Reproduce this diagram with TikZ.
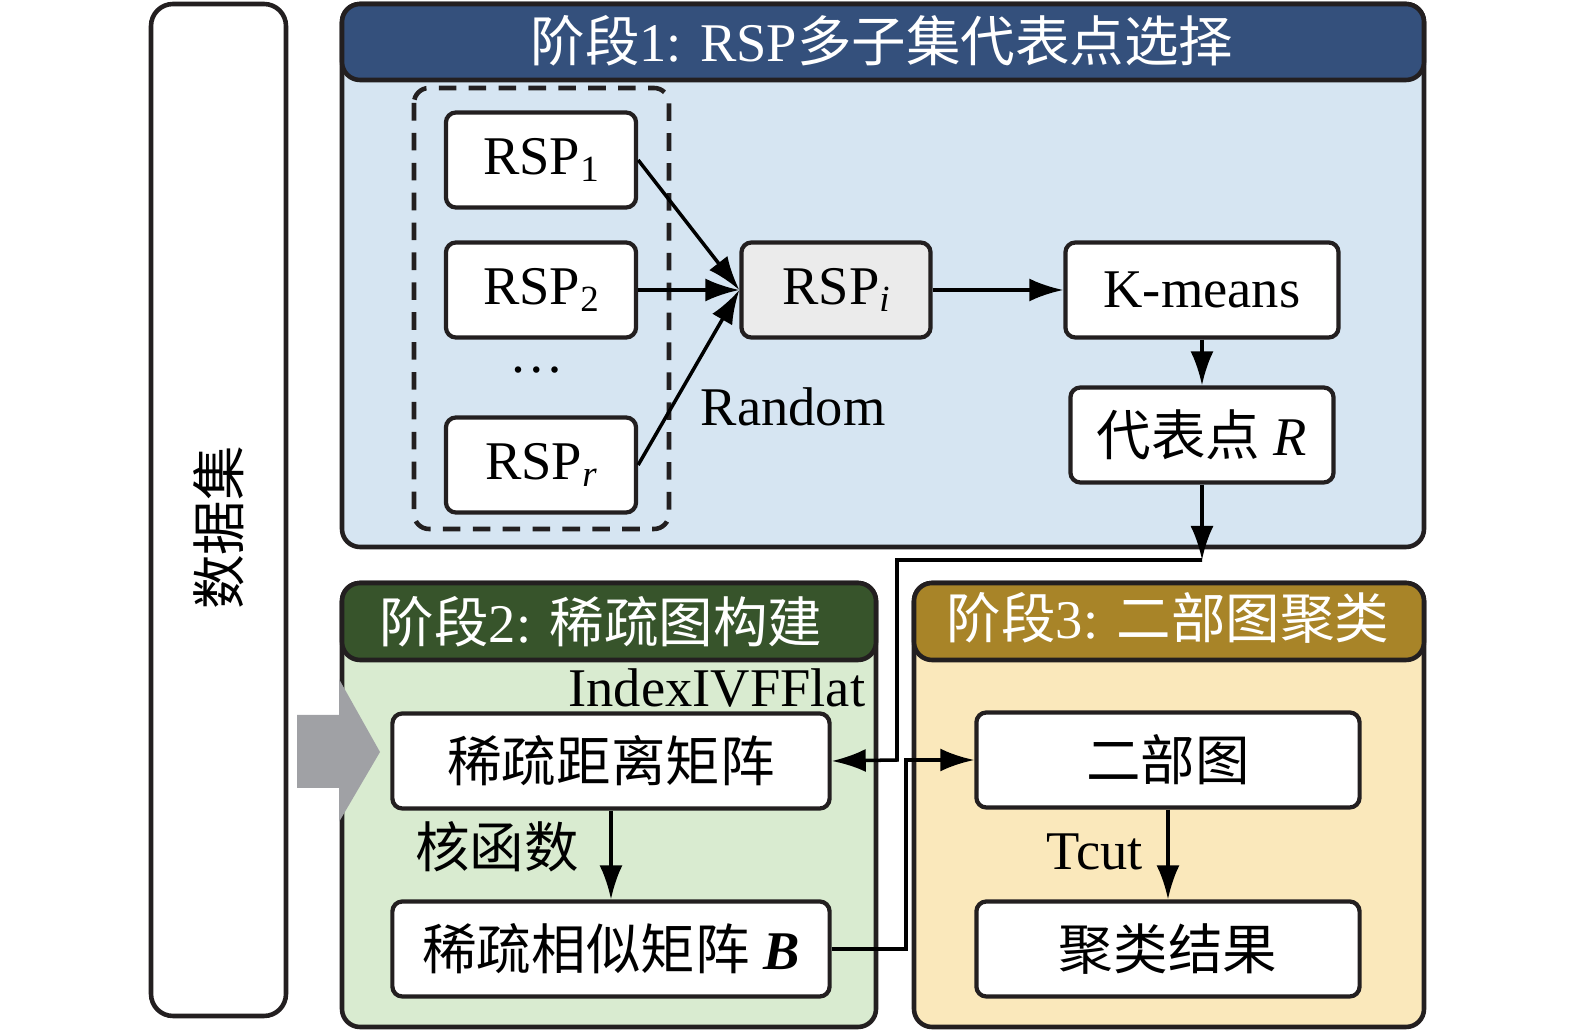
\documentclass[tikz,border=0pt]{standalone}
\usepackage{fontspec}
\setmainfont{Liberation Serif}
\newfontfamily\zh{Noto Sans CJK SC}
\usetikzlibrary{arrows.meta}
\definecolor{edge}{HTML}{231F20}
\definecolor{headone}{HTML}{34507C}
\definecolor{bodyone}{HTML}{D6E5F2}
\definecolor{headtwo}{HTML}{37542B}
\definecolor{bodytwo}{HTML}{D9EBD0}
\definecolor{headthree}{HTML}{A88428}
\definecolor{bodythree}{HTML}{FAE8BB}
\definecolor{pick}{HTML}{EBEBEB}
\definecolor{bigarrow}{HTML}{A0A1A5}
\newcommand{\lowsub}[1]{\raisebox{-0.3ex}{\fontsize{10.5}{12}\selectfont #1}}
\begin{document}
\begin{tikzpicture}[x=0.01cm, y=-0.01cm,
    txt/.style={font=\fontsize{15.5}{18}\selectfont, inner sep=0pt},
    box/.style={txt, draw=edge, line width=1.2pt, rounded corners=0.1cm, fill=white, minimum height=0.95cm},
    frame/.style={draw=edge, line width=1.3pt, rounded corners=0.18cm},
    flow/.style={line width=1pt, -{Latex[length=3.4mm,width=2.3mm]}}]
    \useasboundingbox (0,0) rectangle (1575,1031);
    % data set
    \draw[frame, rounded corners=0.22cm] (151,4) rectangle (286,1016);
    \node[txt, rotate=90] (data) at (219,528) {\zh 数据集};
    % stage 1
    \draw[frame, fill=bodyone] (342,4) rectangle (1424,547);
    \draw[frame, fill=headone] (342,4) rectangle (1424,80);
    \node[txt, text=white] (titleone) at (882,41) {{\zh 阶段}1: RSP{\zh 多子集代表点选择}};
    \draw[line width=1.3pt, edge, dashed, dash pattern=on 5pt off 3.5pt, rounded corners=0.15cm] (414,88) rectangle (669,529);
    \node[box, minimum width=1.90cm] (rspa) at (541,160) {RSP\lowsub{1}};
    \node[box, minimum width=1.90cm] (rspb) at (541,290) {RSP\lowsub{2}};
    \node[txt] (dots) at (537,370) {\dots};
    \node[box, minimum width=1.90cm] (rspr) at (541,465) {RSP\lowsub{\textit{r}}};
    \node[box, minimum width=1.89cm, fill=pick] (rspi) at (836,290) {RSP\lowsub{\textit{i}}};
    \node[box, minimum width=2.73cm] (kmeans) at (1202,290) {K-means};
    \node[box, minimum width=2.63cm] (rep) at (1202,435) {{\zh 代表点} \textit{R}};
    \node[txt, anchor=west] (random) at (700,407) {Random};
    \draw[flow] (rspa.east) -- (rspi.west);
    \draw[flow] (rspb.east) -- (rspi.west);
    \draw[flow] (rspr.east) -- (rspi.west);
    \draw[flow] (rspi) -- (kmeans);
    \draw[flow] (kmeans) -- (rep);
    \coordinate (turn) at (1202,560);
    \draw[flow] (rep) -- (turn);
    % stage 2
    \draw[frame, fill=bodytwo] (342,583) rectangle (876,1027);
    \draw[frame, fill=headtwo] (342,583) rectangle (876,660);
    \node[txt, text=white] (titletwo) at (601,622) {{\zh 阶段}2: {\zh 稀疏图构建}};
    \node[txt, anchor=east] (ivf) at (866,688) {IndexIVFFlat};
    \node[box, minimum width=4.37cm] (dist) at (611,761) {\zh 稀疏距离矩阵};
    \node[box, minimum width=4.37cm] (sim) at (611,949) {{\zh 稀疏相似矩阵} \textbf{\textit{B}}};
    \node[txt] (kernel) at (497,847) {\zh 核函数};
    \draw[flow] (dist) -- (sim);
    \fill[bigarrow] (297,715) -- (339,715) -- (339,679) -- (380,752) -- (339,822) -- (339,788) -- (297,788) -- cycle;
    % stage 3
    \draw[frame, fill=bodythree] (914,583) rectangle (1424,1027);
    \draw[frame, fill=headthree] (914,583) rectangle (1424,660);
    \node[txt, text=white] (titlethree) at (1168,618) {{\zh 阶段}3: {\zh 二部图聚类}};
    \node[box, minimum width=3.83cm] (bip) at (1168,760) {\zh 二部图};
    \node[box, minimum width=3.83cm] (result) at (1168,949) {\zh 聚类结果};
    \node[txt] (tcut) at (1095,852) {Tcut};
    \draw[flow] (bip) -- (result);
    % links between stages
    \draw[flow] (turn) -| (897,760) -- (dist.east);
    \draw[flow] (sim.east) -| (906,760) -- (bip.west);
\end{tikzpicture}
\end{document}
